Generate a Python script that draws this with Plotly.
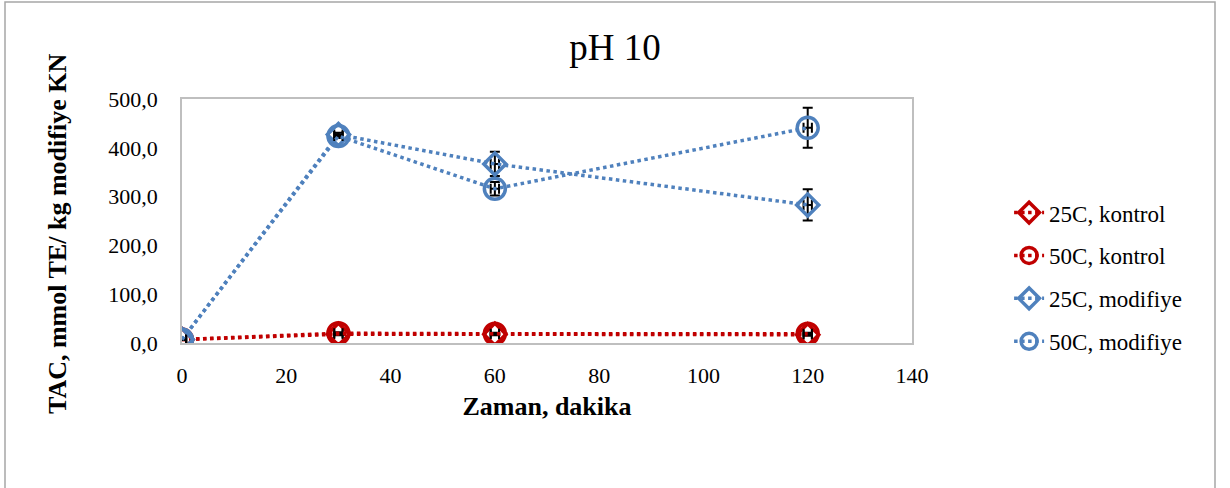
import plotly.graph_objects as go

time_min = [0, 30, 60, 120]
kontrol_25 = [7, 18, 18, 17]
kontrol_50 = [7, 20, 19, 19]
modifiye_25 = [7, 427, 367, 283]
modifiye_50 = [7, 424, 316, 441]
err_kontrol_25 = [1, 2, 2, 2]
err_kontrol_50 = [1, 2, 2, 2]
err_modifiye_25 = [1, 4, 25, 32]
err_modifiye_50 = [1, 4, 14, 41]
err_x = [0.8, 0.8, 0.8, 0.8]

names = ["25C, kontrol", "50C, kontrol", "25C, modifiye", "50C, modifiye"]
series = [kontrol_25, kontrol_50, modifiye_25, modifiye_50]
errs = [err_kontrol_25, err_kontrol_50, err_modifiye_25, err_modifiye_50]
RED = "#C00000"
BLUE = "#4F81BD"
colors = [RED, RED, BLUE, BLUE]
symbols = ["diamond-open", "circle-open", "diamond-open", "circle-open"]
sizes = [17, 21, 17, 21]

FONT = "Liberation Serif"
fig = go.Figure()
for i in range(4):
    fig.add_trace(go.Scatter(
        x=time_min, y=series[i], name=names[i], mode="lines+markers",
        legendgroup=f"g{i}",
        line=dict(color=colors[i], width=3.5, dash="dot"),
        marker=dict(symbol=symbols[i], size=sizes[i], color=colors[i],
                    line=dict(color=colors[i], width=3.5)),
        error_y=dict(type="data", array=errs[i], color="black", thickness=2, width=5),
        error_x=dict(type="data", array=err_x, color="black", thickness=2, width=5),
    ))

fig.update_layout(
    width=1230, height=488,
    margin=dict(l=182, r=318, t=99, b=145),
    paper_bgcolor="white", plot_bgcolor="white",
    separators=", ",
    font=dict(family=FONT, size=22, color="black"),
    title=dict(text="pH 10", x=0.5, xref="container", y=1 - 47 / 488, yref="container",
               xanchor="center", yanchor="middle",
               font=dict(family=FONT, size=37, color="black")),
    xaxis=dict(range=[0, 140], dtick=20, showgrid=False, zeroline=False,
               showline=True, linecolor="#BFBFBF", linewidth=1.5, mirror=True,
               ticks="", ticklabelstandoff=12, tickfont=dict(family=FONT, size=22),
               title=dict(text="<b>Zaman, dakika</b>", standoff=10,
                          font=dict(family=FONT, size=26))),
    yaxis=dict(range=[0, 500], dtick=100, tickformat=".1f", showgrid=False,
               zeroline=False, showline=True, linecolor="#BFBFBF", linewidth=1.5,
               mirror=True, ticks="", ticklabelstandoff=18,
               tickfont=dict(family=FONT, size=22)),
    legend=dict(x=1.133, y=0.27, xanchor="left", yanchor="middle",
                font=dict(family=FONT, size=23), tracegroupgap=10,
                bgcolor="rgba(0,0,0,0)"),
    showlegend=True,
)

fig.add_annotation(text="<b>TAC, mmol TE/ kg modifiye KN</b>", textangle=-90,
                   xref="paper", yref="paper", x=(57 - 182) / 730, y=(343 - 234) / 244,
                   xanchor="center", yanchor="middle", showarrow=False,
                   font=dict(family=FONT, size=26, color="black"))

fig.add_shape(type="rect", xref="paper", yref="paper",
              x0=(5 - 182) / 730, x1=(1215 - 182) / 730,
              y0=(343 - 495) / 244, y1=(343 - 2) / 244,
              line=dict(color="#A6A6A6", width=1.5), layer="below")

fig.write_html("out.html", config={"displayModeBar": False},
               post_script="document.body.style.margin='0px';")
